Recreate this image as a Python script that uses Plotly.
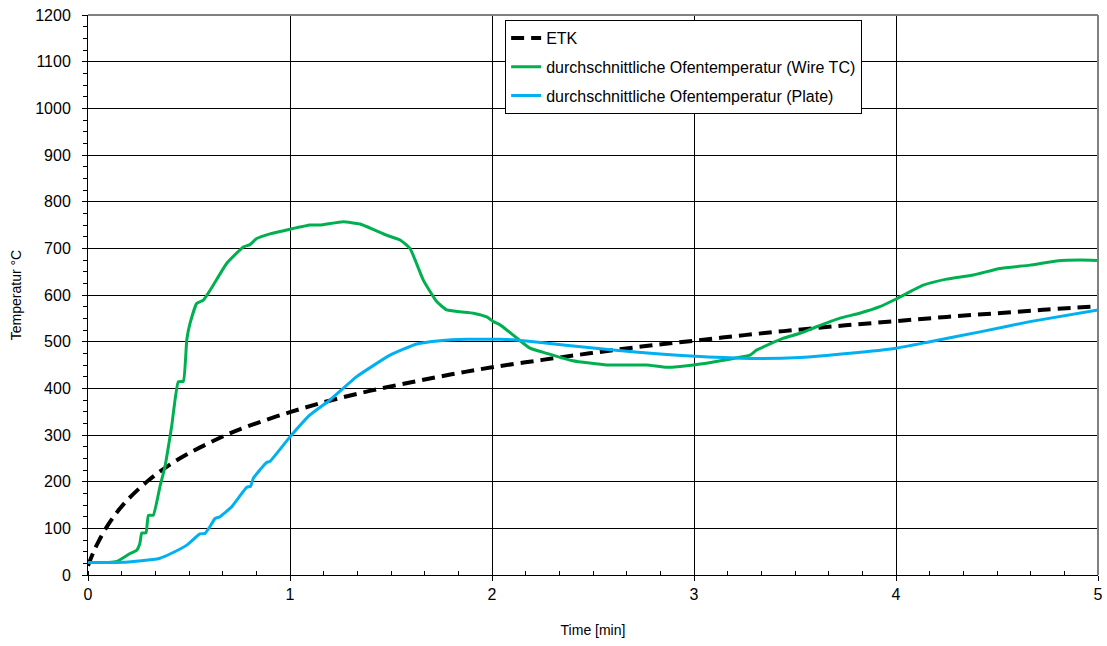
import plotly.graph_objects as go

# ETK (Einheits-Temperaturzeitkurve)
etk_t = [0, 0.025, 0.05, 0.1, 0.15, 0.2, 0.3, 0.4, 0.5, 0.6, 0.7, 0.8, 1.0, 1.2, 1.4, 1.6,
         1.8, 2.0, 2.25, 2.5, 2.75, 3.0, 3.25, 3.5, 3.75, 4.0, 4.25, 4.5, 4.75, 5.0]
etk_T = [20, 47, 70, 108, 138, 163, 203, 235, 261, 283, 303, 320, 349, 374, 395, 413,
         430, 445, 461, 476, 490, 502, 514, 525, 535, 544, 553, 561, 569, 576]

# durchschnittliche Ofentemperatur (Wire TC)
wire_t = [0, 0.1, 0.142, 0.208, 0.241, 0.257, 0.266, 0.287, 0.299, 0.323, 0.356, 0.381, 0.414,
          0.447, 0.472, 0.489, 0.505, 0.538, 0.571, 0.62, 0.687, 0.769, 0.802, 0.835, 0.901,
          1.0, 1.099, 1.149, 1.264, 1.347, 1.479, 1.545, 1.594, 1.66, 1.726, 1.776, 1.908,
          1.974, 2.007, 2.04, 2.105, 2.188, 2.27, 2.4, 2.568, 2.766, 2.865, 2.997, 3.195,
          3.277, 3.31, 3.44, 3.525, 3.607, 3.72, 3.82, 3.92, 4.003, 4.135, 4.25, 4.383,
          4.515, 4.663, 4.795, 4.91, 5.0]
wire_T = [27, 27, 29, 46, 53, 68, 90, 90, 128, 128, 189, 232, 318,
          414, 415, 504, 539, 582, 589, 621, 668, 703, 708, 721, 731,
          741, 750, 750, 757, 752, 728, 718, 700, 632, 586, 568, 561,
          553, 543, 536, 514, 486, 475, 459, 450, 450, 445, 450, 464,
          471, 482, 507, 518, 532, 550, 561, 575, 592, 621, 634, 643,
          657, 664, 673, 675, 674]

# durchschnittliche Ofentemperatur (Plate)
plate_t = [0, 0.1, 0.2, 0.32, 0.356, 0.406, 0.489, 0.554, 0.579, 0.604, 0.629, 0.653, 0.711,
           0.786, 0.805, 0.818, 0.884, 0.9, 1.0, 1.099, 1.198, 1.33, 1.495, 1.627, 1.743,
           1.875, 2.04, 2.105, 2.353, 2.6, 2.848, 3.03, 3.277, 3.525, 3.772, 4.0, 4.168,
           4.416, 4.663, 5.0]
plate_T = [27, 27, 28, 33, 36, 45, 64, 88, 89, 104, 121, 125, 146,
           188, 190, 207, 241, 243, 296, 343, 375, 425, 471, 495, 502,
           505, 505, 504, 493, 482, 473, 468, 464, 466, 475, 486, 500,
           521, 543, 568]

x_ticks = [0, 1, 2, 3, 4, 5]
y_ticks = list(range(0, 1201, 100))

font = "Liberation Sans, Arial, sans-serif"

fig = go.Figure()
fig.add_trace(go.Scatter(x=etk_t, y=etk_T, mode="lines", name="ETK", legendgroup="a",
                         line=dict(color="black", width=4, dash="13px,7px", shape="spline")))
fig.add_trace(go.Scatter(x=wire_t, y=wire_T, mode="lines", legendgroup="b",
                         name="durchschnittliche Ofentemperatur (Wire TC)",
                         line=dict(color="#00B050", width=3, shape="spline", smoothing=0.4)))
fig.add_trace(go.Scatter(x=plate_t, y=plate_T, mode="lines", legendgroup="c",
                         name="durchschnittliche Ofentemperatur (Plate)",
                         line=dict(color="#00B0F0", width=3, shape="spline", smoothing=0.4)))

fig.update_layout(
    width=1107, height=646,
    margin=dict(l=88, r=9, t=15, b=71),
    paper_bgcolor="white", plot_bgcolor="white",
    font=dict(family=font, size=15, color="black"),
    showlegend=True,
    legend=dict(x=0.413, y=0.991, xanchor="left", yanchor="top",
                bgcolor="white", bordercolor="black", borderwidth=1,
                font=dict(family=font, size=16, color="black"),
                tracegroupgap=5),
    xaxis=dict(range=[0, 5], tickvals=x_ticks, ticktext=[str(v) for v in x_ticks],
               automargin=False,
               showgrid=True, gridcolor="black", gridwidth=1,
               showline=True, linecolor="black", linewidth=1, mirror=False,
               ticks="outside", ticklen=5, tickcolor="black",
               minor=dict(dtick=1/6, ticks="inside", ticklen=4, tickcolor="black", showgrid=False),
               title=dict(text="Time [min]", font=dict(size=14), standoff=22),
               zeroline=False, tickfont=dict(size=16)),
    yaxis=dict(range=[0, 1200], tickvals=y_ticks, ticktext=[str(v) for v in y_ticks],
               automargin=False,
               showgrid=True, gridcolor="black", gridwidth=1,
               showline=True, linecolor="black", linewidth=1,
               ticks="outside", ticklen=5, tickcolor="black",
               ticklabelstandoff=8,
               minor=dict(dtick=25, ticks="outside", ticklen=4, tickcolor="black", showgrid=False),
               title=dict(text="Temperatur °C", font=dict(size=14), standoff=10),
               zeroline=False, tickfont=dict(size=16)),
)

# plot-area border on top and right (grey)
fig.add_shape(type="line", xref="paper", yref="paper", x0=0, x1=1, y0=1, y1=1,
              line=dict(color="#808080", width=2))
fig.add_shape(type="line", xref="paper", yref="paper", x0=1, x1=1, y0=0, y1=1,
              line=dict(color="#808080", width=2))

fig.write_html("out.html")
